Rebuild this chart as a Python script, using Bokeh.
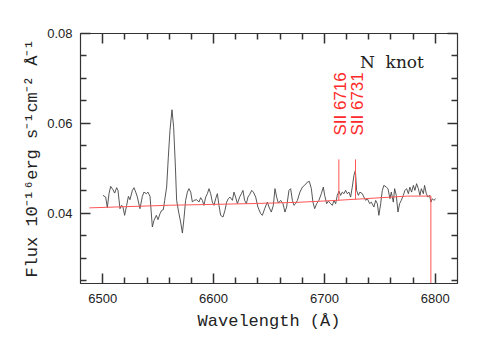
import numpy as np
from bokeh.plotting import figure
from bokeh.models import Range1d, NumeralTickFormatter, LinearAxis, FixedTicker, CustomJSTickFormatter
from bokeh.core.properties import value
from bokeh.embed import file_html
from bokeh.resources import INLINE

# observed spectrum (wavelength in Angstrom, flux in 1e-16 erg s^-1 cm^-2 A^-1)
wave = [6500.3, 6502.7, 6504.2, 6505.7, 6507.2, 6509.3, 6510.8, 6512.6, 6513.8, 6515.6,
        6517.1, 6518.3, 6519.8, 6521.6, 6523.2, 6524.6, 6526.8, 6528.2, 6529.8, 6531.3,
        6533.6, 6535.8, 6537.2, 6539.4, 6540.8, 6542.7, 6544.8, 6546.3, 6548.4, 6549.9,
        6551.7, 6553.2, 6554.7, 6555.9, 6557.7, 6559.2, 6560.7, 6562.5, 6564.0, 6565.6,
        6566.7, 6568.5, 6570.3, 6571.9, 6573.3, 6574.8, 6576.4, 6577.8, 6579.4, 6580.9,
        6582.3, 6584.8, 6586.8, 6588.4, 6589.9, 6591.3, 6592.9, 6594.4, 6595.9, 6597.4,
        6598.9, 6600.4, 6601.9, 6603.4, 6604.9, 6606.4, 6608.5, 6610.3, 6611.8, 6613.3,
        6614.8, 6617.0, 6618.4, 6619.9, 6621.5, 6623.5, 6625.1, 6626.5, 6628.0, 6629.6,
        6631.0, 6632.6, 6634.4, 6635.9, 6638.0, 6640.0, 6642.5, 6644.0, 6646.1, 6648.5,
        6650.0, 6652.1, 6653.9, 6655.4, 6656.9, 6658.4, 6660.5, 6662.6, 6664.4, 6665.9,
        6668.0, 6669.5, 6671.1, 6672.5, 6674.0, 6675.6, 6677.9, 6680.1, 6682.1, 6684.6,
        6686.4, 6688.2, 6689.6, 6691.2, 6693.0, 6695.0, 6697.2, 6699.0, 6700.2, 6702.0,
        6703.5, 6705.6, 6707.1, 6708.6, 6710.1, 6711.6, 6713.1, 6714.6, 6716.1, 6717.6,
        6719.1, 6720.6, 6722.1, 6723.6, 6725.1, 6726.6, 6727.9, 6729.0, 6730.6, 6732.0,
        6734.2, 6735.6, 6737.2, 6738.7, 6740.8, 6742.3, 6744.6, 6746.2, 6747.7, 6749.1,
        6750.7, 6752.2, 6753.6, 6755.8, 6757.3, 6759.1, 6760.3, 6762.1, 6763.3, 6764.8,
        6766.3, 6767.8, 6769.3, 6771.1, 6772.6, 6774.1, 6775.7, 6777.1, 6778.6, 6780.2,
        6781.6, 6783.1, 6784.7, 6786.1, 6787.4, 6789.2, 6790.3, 6791.9, 6793.3, 6794.9,
        6796.0, 6797.3, 6798.7, 6800.3]
flux = [0.0440, 0.04362, 0.04127, 0.04437, 0.0460, 0.04526, 0.04451, 0.04571, 0.04511, 0.04104,
        0.04178, 0.0414, 0.03956, 0.04178, 0.04378, 0.04304, 0.04511, 0.04571, 0.04473, 0.04362,
        0.04104, 0.04378, 0.04473, 0.04437, 0.04473, 0.04378, 0.03696, 0.03844, 0.03956, 0.0386,
        0.03993, 0.04067, 0.04082, 0.04289, 0.04584, 0.0525, 0.05844, 0.06304, 0.05916, 0.05029,
        0.04289, 0.04029, 0.03807, 0.03562, 0.03882, 0.04289, 0.04473, 0.04549, 0.04473, 0.04251,
        0.04289, 0.04304, 0.04251, 0.04349, 0.04289, 0.04178, 0.04362, 0.04437, 0.04549, 0.04437,
        0.04251, 0.04178, 0.04326, 0.04437, 0.04178, 0.03956, 0.03918, 0.04067, 0.04251, 0.04326,
        0.04362, 0.04289, 0.04473, 0.04362, 0.04215, 0.04362, 0.04437, 0.04511, 0.04289, 0.04215,
        0.04362, 0.04422, 0.04511, 0.04473, 0.04362, 0.0414, 0.03993, 0.03956, 0.04104, 0.04251,
        0.0414, 0.04029, 0.04178, 0.04549, 0.04362, 0.04229, 0.04289, 0.04215, 0.04029, 0.0414,
        0.04511, 0.04549, 0.04289, 0.04178, 0.04215, 0.04289, 0.04473, 0.04584, 0.04622, 0.04695,
        0.0471, 0.04549, 0.04251, 0.04104, 0.04215, 0.04289, 0.04437, 0.04584, 0.0440, 0.04215,
        0.04273, 0.04215, 0.04178, 0.04289, 0.04215, 0.0440, 0.04495, 0.0440, 0.04473, 0.04437,
        0.04511, 0.04437, 0.04473, 0.04362, 0.04584, 0.04844, 0.04955, 0.04511, 0.0440, 0.04473,
        0.04437, 0.04362, 0.04289, 0.04326, 0.04215, 0.04251, 0.0414, 0.04289, 0.04215, 0.03956,
        0.04215, 0.04511, 0.04622, 0.04584, 0.04549, 0.04326, 0.04473, 0.04251, 0.04549, 0.0440,
        0.04029, 0.04215, 0.04289, 0.0440, 0.04511, 0.04549, 0.04437, 0.04584, 0.04473, 0.04622,
        0.04511, 0.0466, 0.04549, 0.0440, 0.04549, 0.04437, 0.04622, 0.04437, 0.04362, 0.0440,
        0.04251, 0.04326, 0.04289, 0.04326]

# continuum fit (red)
cont_wave = [6488, 6560, 6632, 6675, 6711, 6737, 6775, 6796, 6796]
cont_flux = [0.04122, 0.0418, 0.04216, 0.04244, 0.04289, 0.04327, 0.04384, 0.04384, 0.0200]

# line markers
line_names = ["SII 6716", "SII 6731"]
line_wave = [6713.0, 6728.0]
line_top = [0.052, 0.052]
label_base = [0.0573, 0.0573]

title_text = ["N\u00a0\u00a0knot"]
title_x = [6732.0]
title_y = [0.0736]

# axis ranges and ticks
x_lo, x_hi = 6480.0, 6820.0
y_lo, y_hi = 0.0244, 0.08
x_major = [6500.0, 6600.0, 6700.0, 6800.0]
x_minor = [6520.0, 6540.0, 6560.0, 6580.0, 6620.0, 6640.0, 6660.0, 6680.0,
           6720.0, 6740.0, 6760.0, 6780.0]
y_major = [0.04, 0.06, 0.08]
y_minor = [0.025, 0.03, 0.035, 0.045, 0.05, 0.055, 0.065, 0.07, 0.075]

AX = "#333333"

p = figure(width=493, height=346, output_backend="svg", toolbar_location=None,
           x_range=Range1d(x_lo, x_hi), y_range=Range1d(y_lo, y_hi),
           min_border_left=80, min_border_right=36, min_border_top=33, min_border_bottom=63)
p.xgrid.visible = False
p.ygrid.visible = False
p.outline_line_color = AX
p.background_fill_color = None
p.border_fill_color = None

# spectrum
p.line(wave, flux, line_color="#444444", line_width=0.9)
# continuum
p.line(cont_wave, cont_flux, line_color="#ff5555", line_width=1.0)
# line markers
cont_at = list(np.interp(line_wave, cont_wave[:-1], cont_flux[:-1]))
p.segment(x0=line_wave, y0=cont_at, x1=line_wave, y1=line_top, line_color="#ff5555", line_width=1.0)
p.text(x=line_wave, y=label_base, text=line_names, angle=np.pi / 2, x_offset=2,
       text_align="left", text_baseline="middle", text_color="#ff2a2a",
       text_font=value("Liberation Sans"), text_font_size="17px")
p.text(x=title_x, y=title_y, text=title_text, text_align="left", text_baseline="alphabetic",
       text_color="#222222", text_font=value("DejaVu Serif"), text_font_size="17px")

def style(ax):
    ax.axis_line_color = AX
    ax.axis_line_width = 1.2
    ax.major_tick_line_color = AX
    ax.minor_tick_line_color = AX
    ax.major_tick_line_width = 1.5
    ax.minor_tick_line_width = 1.5
    ax.major_tick_in = 10
    ax.major_tick_out = 0
    ax.minor_tick_in = 6
    ax.minor_tick_out = 0
    ax.major_label_text_font = "Liberation Sans"
    ax.major_label_text_font_size = "13px"
    ax.major_label_text_color = "#222222"
    ax.axis_label_text_font = "Liberation Mono"
    ax.axis_label_text_font_style = "normal"
    ax.axis_label_text_font_size = "17px"
    ax.axis_label_text_color = "#222222"

p.xaxis.ticker = FixedTicker(ticks=x_major, minor_ticks=x_minor)
p.yaxis.ticker = FixedTicker(ticks=y_major, minor_ticks=y_minor)
p.yaxis.formatter = NumeralTickFormatter(format="0.00")
p.xaxis.axis_label = "Wavelength (Å)"
p.yaxis.axis_label = "Flux 10⁻¹⁶erg s⁻¹cm⁻² Å⁻¹"
for ax in p.xaxis + p.yaxis:
    style(ax)
p.xaxis.major_label_standoff = 10
p.yaxis.major_label_standoff = 8
p.xaxis.axis_label_standoff = 6
p.yaxis.axis_label_standoff = 2

blank = CustomJSTickFormatter(code="return ''")
top = LinearAxis(ticker=FixedTicker(ticks=x_major, minor_ticks=x_minor), formatter=blank)
right = LinearAxis(ticker=FixedTicker(ticks=y_major, minor_ticks=y_minor), formatter=blank)
for ax in (top, right):
    style(ax)
    ax.major_label_text_font_size = "1px"
    ax.major_label_standoff = 0
p.add_layout(top, "above")
p.add_layout(right, "right")

open("out.html", "w").write(file_html(p, INLINE))
